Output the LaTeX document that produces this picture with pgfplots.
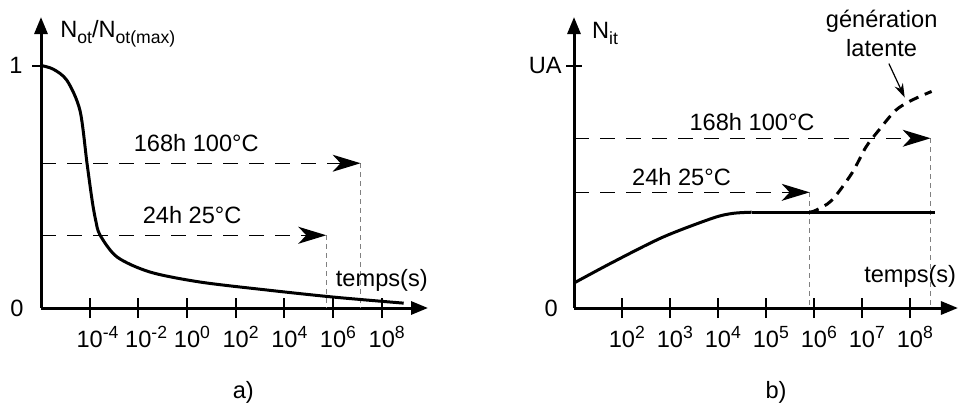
\documentclass[border=0pt]{standalone}
\usepackage{fontspec}
\setmainfont{Liberation Sans}
\usepackage{pgfplots}
\pgfplotsset{compat=1.18}
\usetikzlibrary{arrows.meta}
\newcommand\mysub[1]{\raisebox{-2.8pt}{\fontsize{8.8}{10}\selectfont#1}}
\newcommand\mysup[1]{\rlap{\raisebox{4.5pt}{\fontsize{8.8}{10}\selectfont#1}}}
\tikzset{lbl/.style={inner sep=0pt}}
\begin{document}
\fontsize{11.8}{14}\selectfont
\begin{tikzpicture}[font=\fontsize{11.8}{14}\selectfont]
\useasboundingbox (0,0) rectangle (480pt,201.5pt);
\pgfplotsset{
 myaxis/.style={
  scale only axis, axis lines=left,
  axis line style={line width=1.5pt, -{Triangle[length=8.5pt,width=6.5pt]}},
  ymin=0, ymax=1.2, height=145.5pt,
  clip=false,
  xmajorticks=true,
  xtick align=center, major tick length=10pt,
  xtick style={draw=black, solid, line width=1pt},
  ytick=\empty,
  xticklabel style={anchor=base, yshift=-14.5pt, font=\fontsize{11.8}{14}\selectfont},
  anchor=south west,
 },
 hdash/.style={line width=0.7pt, dash pattern=on 7.5pt off 5.5pt, -{Stealth[length=14pt,width=8.5pt,inset=4pt]}},
 vdash/.style={gray, line width=0.6pt, dash pattern=on 2.5pt off 2pt},
}
% ---------- a) ----------
\begin{axis}[myaxis, at={(20.5pt,47.5pt)}, width=193.5pt,
  xmin=-6, xmax=9.9,
  xtick={-4,-2,0,2,4,6,8},
  xticklabels={10\mysup{-4},10\mysup{-2},10\mysup{0},10\mysup{2},10\mysup{4},10\mysup{6},10\mysup{8}}]
\addplot[vdash] coordinates {(7.13,0.597) (7.13,0)};
\addplot[vdash] coordinates {(5.72,0.300) (5.72,0)};
\addplot[hdash] coordinates {(-6,0.597) (7.13,0.597)};
\addplot[hdash] coordinates {(-6,0.300) (5.72,0.300)};
\addplot[line width=1.5pt, smooth, tension=0.5] coordinates {
 (-6,1.0) (-5.5,0.985) (-4.93,0.938) (-4.4,0.815) (-4.11,0.597) (-3.9,0.444)
 (-3.75,0.36) (-3.57,0.300) (-2.87,0.21) (-1.51,0.148) (0.54,0.107)
 (3.3,0.074) (6.02,0.045) (8.9,0.02)};
\draw[line width=1pt] (axis cs:-6,1) -- ([xshift=-4.5pt]axis cs:-6,1);
\node[lbl, anchor=base west] at (axis cs:-5.22,1.115) {N\mysub{ot}/N\mysub{ot(max)}};
\node[lbl, anchor=east] at (axis cs:-6.74,1) {1};
\node[lbl, anchor=east] at (axis cs:-6.70,0) {0};
\node at (axis cs:0.38,0.679) {168h 100°C};
\node at (axis cs:0.21,0.383) {24h 25°C};
\node[lbl, anchor=base west] at (axis cs:6.10,0.09) {temps(s)};
\node at (axis cs:2.31,-0.35) {a)};
\end{axis}
% ---------- b) ----------
\begin{axis}[myaxis, at={(287pt,47.5pt)}, width=192pt,
  xmin=1, xmax=9,
  xtick={2,3,4,5,6,7,8},
  xticklabels={10\mysup{2},10\mysup{3},10\mysup{4},10\mysup{5},10\mysup{6},10\mysup{7},10\mysup{8}}]
\addplot[vdash] coordinates {(8.43,0.70) (8.43,0)};
\addplot[vdash] coordinates {(5.91,0.477) (5.91,0)};
\addplot[hdash] coordinates {(1,0.70) (8.43,0.70)};
\addplot[hdash] coordinates {(1,0.477) (5.91,0.477)};
\addplot[line width=1.5pt, smooth, tension=0.5] coordinates {
 (1,0.103) (1.81,0.189) (2.85,0.292) (3.88,0.370) (4.3,0.39) (4.7,0.395)};
\addplot[line width=1.5pt] coordinates {(4.7,0.395) (8.53,0.395)};
\addplot[line width=1.5pt, smooth, tension=0.5, dash pattern=on 5pt off 3.5pt] coordinates {
 (5.9,0.395) (6.04,0.403) (6.37,0.444) (6.79,0.556) (7.08,0.663) (7.35,0.733)
 (7.70,0.815) (8.03,0.856) (8.45,0.893)};
\draw[line width=1pt] ([xshift=-4pt]axis cs:1,1) -- ([xshift=4pt]axis cs:1,1);
\draw[line width=0.6pt, -{Stealth[length=7pt,width=4.5pt]}] (axis cs:7.56,1.008) -- (axis cs:7.89,0.868);
\node[lbl, anchor=base west] at (axis cs:1.37,1.111) {N\mysub{it}};
\node[lbl, anchor=east] at (axis cs:0.75,1) {UA};
\node[lbl, anchor=east] at (axis cs:0.668,0) {0};
\node at (axis cs:4.71,0.765) {168h 100°C};
\node at (axis cs:3.24,0.54) {24h 25°C};
\node[anchor=base] at (axis cs:7.41,1.156) {génération};
\node[anchor=base] at (axis cs:7.41,1.037) {latente};
\node[lbl, anchor=base west] at (axis cs:7.04,0.107) {temps(s)};
\node at (axis cs:5.21,-0.35) {b)};
\end{axis}
\end{tikzpicture}
\end{document}
